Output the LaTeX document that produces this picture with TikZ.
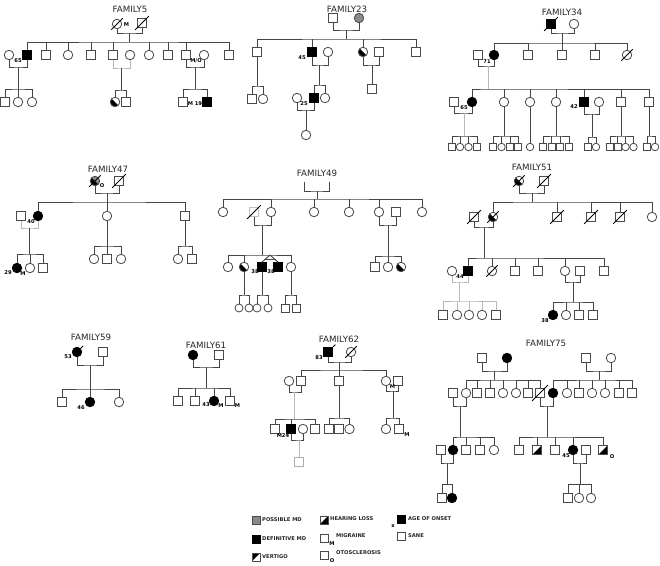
\documentclass[tikz,border=0pt]{standalone}
\usepackage{fontspec}
\setmainfont{DejaVu Sans}
\usetikzlibrary{calc}
\definecolor{lnc}{HTML}{454545}
\definecolor{olc}{HTML}{4A4A4A}
\definecolor{pmd}{HTML}{8A8A8A}
\definecolor{ltc}{HTML}{B8B8B8}
\tikzset{
  ln/.style={draw=lnc,line width=0.95pt},
  lt/.style={draw=ltc,line width=0.95pt},
  sq/.style={draw=olc,line width=0.8pt,rectangle,minimum size=9pt,inner sep=0pt,fill=white},
  ci/.style={draw=olc,line width=0.8pt,circle,minimum size=9.5pt,inner sep=0pt,fill=white},
  ss/.style={sq,minimum size=7pt},
  sc/.style={ci,minimum size=7.5pt},
  blk/.style={fill=black,draw=black},
  gry/.style={fill=pmd},
  vtg/.style={path picture={\fill[black] (path picture bounding box.south west) -- (path picture bounding box.north west) -- (path picture bounding box.north east) -- cycle;}},
  hl/.style={path picture={\fill[black] (path picture bounding box.south west) -- (path picture bounding box.south east) -- (path picture bounding box.north east) -- cycle;}},
  hc/.style={path picture={\fill[black] (path picture bounding box.north west) -- (path picture bounding box.south west) -- (path picture bounding box.south east) -- cycle;}},
  lab/.style={font=\bfseries\fontsize{5.2}{5.2}\selectfont,inner sep=0pt,text=black},
  leg/.style={font=\bfseries\fontsize{5.2}{5.2}\selectfont,inner sep=0pt,text=black!85,anchor=west},
  ttl/.style={font=\fontsize{8.7}{9}\selectfont,text=black!85,inner sep=0pt},
  sl/.style={draw=black,line width=0.75pt},
}
\newcommand\pSlash[1]{\draw[sl] ([shift={(-2pt,-2pt)}]#1.south west) -- ([shift={(2pt,2pt)}]#1.north east);}
\newcommand\pFlag[1]{\draw[sl] (#1.north east) -- ([shift={(2.5pt,2.5pt)}]#1.north east);}
\newcommand\pMarr[4][ln]{\draw[#1] (#2.south) |- (#4) -| (#3.south);}
\newcommand\pSibs[4][ln]{\draw[#1] (#2.north) |- (#4) -| (#3.north);}
\newcommand\pTick[3][ln]{\draw[#1] (#2.north) -- (#2.north |- #3);}
\begin{document}
\begin{tikzpicture}[x=1pt,y=-1pt]
\fill[white] (0,0) rectangle (660,565);
\useasboundingbox (0,0) rectangle (660,565);

%% ================= FAMILY5
\node[ttl] (t5) at (130,9) {FAMILY5};
\node[ci] (f5a) at (117,24) {};
\node[sq] (f5b) at (142,23) {};
\pSlash{f5a}\pSlash{f5b}
\node[lab] (f5la) at (126.5,25) {M};
\coordinate (m5) at (129,33);
\coordinate (s5) at (129,42);
\pMarr{f5a}{f5b}{m5}
\draw[ln] (m5) -- (s5);
\node[ci] (f5c1) at (9,55) {};
\node[sq,blk] (f5c2) at (27,55) {};
\node[sq] (f5c3) at (46,55) {};
\node[ci] (f5c4) at (68,55) {};
\node[sq] (f5c5) at (91,55) {};
\node[sq] (f5c6) at (113,55) {};
\node[ci] (f5c7) at (130,55) {};
\node[ci] (f5c8) at (149,55) {};
\node[sq] (f5c9) at (168,55) {};
\node[sq] (f5c10) at (186,55) {};
\node[ci] (f5c11) at (204,55) {};
\node[sq] (f5c12) at (229,55) {};
\pSibs{f5c2}{f5c12}{s5}
\foreach \n in {3,4,5,6,8,9,10} {\pTick{f5c\n}{s5}}
\node[lab] (f5lb) at (18,61) {65};
\node[lab] (f5lc) at (196,61) {M/O};
\coordinate (m5a) at (18,67);
\coordinate (s5a) at (18,89);
\pMarr{f5c1}{f5c2}{m5a}
\draw[ln] (m5a) -- (s5a);
\node[sq] (f5g1) at (5,102) {};
\node[ci] (f5g2) at (18,102) {};
\node[ci] (f5g3) at (32,102) {};
\pSibs{f5g1}{f5g3}{s5a}
\pTick{f5g2}{s5a}
\coordinate (m5b) at (121,68);
\coordinate (s5b) at (121,90);
\pMarr[lt]{f5c6}{f5c7}{m5b}
\draw[ln] (m5b) -- (s5b);
\node[ci,hc] (f5g4) at (115,102) {};
\node[sq] (f5g5) at (126,102) {};
\pSibs{f5g4}{f5g5}{s5b}
\coordinate (m5c) at (195,67);
\coordinate (s5c) at (195,89);
\pMarr{f5c10}{f5c11}{m5c}
\draw[ln] (m5c) -- (s5c);
\node[sq] (f5g6) at (183,102) {};
\node[sq,blk] (f5g7) at (207,102) {};
\pSibs{f5g6}{f5g7}{s5c}
\node[lab] (f5ld) at (195,104) {M 19};

%% ================= FAMILY23
\node[ttl] (t23) at (347,9) {FAMILY23};
\node[sq] (f23a) at (333,18) {};
\node[ci,gry] (f23b) at (359,18) {};
\coordinate (m23) at (346,30);
\coordinate (s23) at (346,39);
\pMarr{f23a}{f23b}{m23}
\draw[ln] (m23) -- (s23);
\node[sq] (f23c1) at (257,52) {};
\node[sq,blk] (f23c2) at (312,52) {};
\node[ci] (f23c3) at (328,52) {};
\node[ci,hc] (f23c4) at (363,52) {};
\node[sq] (f23c5) at (379,52) {};
\node[sq] (f23c6) at (416,52) {};
\pSibs{f23c1}{f23c6}{s23}
\pTick{f23c2}{s23}\pTick{f23c4}{s23}
\node[lab] (f23la) at (302,58) {45};
\coordinate (s23a) at (257,86);
\draw[ln] (f23c1.south) -- (s23a);
\node[sq] (f23g1) at (252,99) {};
\node[ci] (f23g2) at (263,99) {};
\pSibs{f23g1}{f23g2}{s23a}
\coordinate (m23b) at (319,65);
\coordinate (s23b) at (319,85);
\pMarr{f23c2}{f23c3}{m23b}
\draw[ln] (m23b) -- (s23b);
\node[sq,blk] (f23g3) at (314,98) {};
\node[ci] (f23g4) at (325,98) {};
\pSibs{f23g3}{f23g4}{s23b}
\node[ci] (f23g5) at (297,98) {};
\node[lab] (f23lb) at (304,104) {25};
\coordinate (m23c) at (306,110);
\pMarr{f23g5}{f23g3}{m23c}
\node[ci] (f23g6) at (306,135) {};
\draw[ln] (m23c) -- (f23g6.north);
\coordinate (m23d) at (372,65);
\pMarr{f23c4}{f23c5}{m23d}
\node[sq] (f23g7) at (372,89) {};
\draw[ln] (m23d) -- (f23g7.north);

%% ================= FAMILY34
\node[ttl] (t34) at (562,12) {FAMILY34};
\node[sq,blk] (f34a) at (551,24) {};
\node[ci] (f34b) at (574,24) {};
\pSlash{f34a}
\coordinate (m34) at (562,33);
\coordinate (s34) at (562,43);
\pMarr{f34a}{f34b}{m34}
\draw[ln] (m34) -- (s34);
\node[sq] (f34c1) at (478,55) {};
\node[ci,blk] (f34c2) at (494,55) {};
\node[sq] (f34c3) at (528,55) {};
\node[sq] (f34c4) at (562,55) {};
\node[sq] (f34c5) at (595,55) {};
\node[ci] (f34c6) at (627,55) {};
\pSlash{f34c6}
\pSibs{f34c2}{f34c6}{s34}
\foreach \n in {3,4,5} {\pTick{f34c\n}{s34}}
\node[lab] (f34la) at (487,62) {71};
\coordinate (m34a) at (488,66);
\coordinate (s34a) at (488,89);
\pMarr{f34c1}{f34c2}{m34a}
\draw[lt] (m34a) -- (s34a);
\node[sq] (f34g1) at (454,102) {};
\node[ci,blk] (f34g2) at (472,102) {};
\node[ci] (f34g3) at (504,102) {};
\node[ci] (f34g4) at (530,102) {};
\node[ci] (f34g5) at (556,102) {};
\node[sq,blk] (f34g6) at (584,102) {};
\node[ci] (f34g7) at (599,102) {};
\node[sq] (f34g8) at (621,102) {};
\node[sq] (f34g9) at (649,102) {};
\pSibs{f34g2}{f34g9}{s34a}
\foreach \n in {3,4,5,6,8} {\pTick{f34g\n}{s34a}}
\node[lab] (f34lb) at (464,108) {65};
\node[lab] (f34lc) at (574,107) {42};
\coordinate (m34b) at (464,113);
\coordinate (s34b) at (464,136);
\pMarr{f34g1}{f34g2}{m34b}
\draw[lt] (m34b) -- (s34b);
\node[ss] (f34h1) at (452,147) {};
\node[sc] (f34h2) at (460,147) {};
\node[sc] (f34h3) at (468.5,147) {};
\node[ss] (f34h4) at (477,147) {};
\pSibs{f34h1}{f34h4}{s34b}
\pTick{f34h2}{s34b}\pTick{f34h3}{s34b}
\coordinate (s34c) at (504,136);
\draw[ln] (f34g3.south) -- (s34c);
\node[ss] (f34h5) at (493,147) {};
\node[sc] (f34h6) at (501.5,147) {};
\node[ss] (f34h7) at (510,147) {};
\node[ss] (f34h8) at (518,147) {};
\pSibs{f34h5}{f34h8}{s34c}
\pTick{f34h6}{s34c}\pTick{f34h7}{s34c}
\node[sc] (f34h9) at (530,147) {};
\draw[ln] (f34g4.south) -- (f34h9.north);
\coordinate (s34d) at (556,136);
\draw[ln] (f34g5.south) -- (s34d);
\node[ss] (f34h10) at (543,147) {};
\node[ss] (f34h11) at (551.5,147) {};
\node[ss] (f34h12) at (560,147) {};
\node[ss] (f34h13) at (569,147) {};
\pSibs{f34h10}{f34h13}{s34d}
\pTick{f34h11}{s34d}\pTick{f34h12}{s34d}
\coordinate (m34e) at (592,114);
\coordinate (s34e) at (592,137);
\pMarr{f34g6}{f34g7}{m34e}
\draw[ln] (m34e) -- (s34e);
\node[ss] (f34h14) at (588,147) {};
\node[sc] (f34h15) at (596,147) {};
\pSibs{f34h14}{f34h15}{s34e}
\coordinate (s34f) at (621,136);
\draw[ln] (f34g8.south) -- (s34f);
\node[ss] (f34h16) at (610,147) {};
\node[ss] (f34h17) at (617.5,147) {};
\node[sc] (f34h18) at (625.5,147) {};
\node[sc] (f34h19) at (633.5,147) {};
\pSibs{f34h16}{f34h19}{s34f}
\pTick{f34h17}{s34f}\pTick{f34h18}{s34f}
\coordinate (s34g) at (649,136);
\draw[ln] (f34g9.south) -- (s34g);
\node[ss] (f34h20) at (647,147) {};
\node[sc] (f34h21) at (655,147) {};
\pSibs{f34h20}{f34h21}{s34g}

%% ================= FAMILY47
\node[ttl] (t47) at (108,169) {FAMILY47};
\node[ci,gry,hc] (f47a) at (95,181) {};
\node[sq] (f47b) at (119,181) {};
\pSlash{f47a}\pSlash{f47b}
\node[lab] (f47la) at (102,185.5) {O};
\coordinate (m47) at (107,193);
\coordinate (s47) at (107,202);
\pMarr{f47a}{f47b}{m47}
\draw[ln] (m47) -- (s47);
\node[sq] (f47c1) at (21,216) {};
\node[ci,blk] (f47c2) at (38,216) {};
\node[ci] (f47c3) at (107,216) {};
\node[sq] (f47c4) at (185,216) {};
\pSibs{f47c2}{f47c4}{s47}
\pTick{f47c3}{s47}
\node[lab] (f47lb) at (31,221.5) {40};
\coordinate (m47a) at (29,228);
\coordinate (s47a) at (29,254);
\pMarr[lt]{f47c1}{f47c2}{m47a}
\draw[ln] (m47a) -- (s47a);
\node[ci,blk] (f47g1) at (17,268) {};
\node[ci] (f47g2) at (30,268) {};
\node[sq] (f47g3) at (43,268) {};
\pSibs{f47g1}{f47g3}{s47a}
\pTick{f47g2}{s47a}
\node[lab] (f47lc) at (8,273) {29};
\node[lab] (f47ld) at (23,274) {M};
\coordinate (s47b) at (107,246);
\draw[ln] (f47c3.south) -- (s47b);
\node[ci] (f47g4) at (94,259) {};
\node[sq] (f47g5) at (107,259) {};
\node[ci] (f47g6) at (121,259) {};
\pSibs{f47g4}{f47g6}{s47b}
\pTick{f47g5}{s47b}
\coordinate (s47c) at (185,246);
\draw[ln] (f47c4.south) -- (s47c);
\node[ci] (f47g7) at (178,259) {};
\node[sq] (f47g8) at (192,259) {};
\pSibs{f47g7}{f47g8}{s47c}

%% ================= FAMILY49
\node[ttl] (t49) at (317,173) {FAMILY49};
\coordinate (b49a) at (304,182);
\coordinate (b49b) at (329,182);
\coordinate (m49) at (317,191);
\coordinate (s49) at (317,199);
\draw[ln] (b49a) |- (m49) -| (b49b);
\draw[ln] (m49) -- (s49);
\node[ci] (f49c1) at (223,212) {};
\node[sq,draw=olc!35] (f49c2) at (254,212) {};
\pSlash{f49c2}
\node[ci] (f49c3) at (271,212) {};
\node[ci] (f49c4) at (314,212) {};
\node[ci] (f49c5) at (349,212) {};
\node[ci] (f49c6) at (379,212) {};
\node[sq] (f49c7) at (396,212) {};
\node[ci] (f49c8) at (422,212) {};
\pSibs{f49c1}{f49c8}{s49}
\foreach \n in {3,4,5,6} {\pTick{f49c\n}{s49}}
\coordinate (m49a) at (262,225);
\coordinate (s49a) at (262,255);
\pMarr{f49c2}{f49c3}{m49a}
\draw[ln] (m49a) -- (s49a);
\node[ci] (f49g1) at (228,267) {};
\node[ci,hc] (f49g2) at (244,267) {};
\node[sq,blk] (f49g3) at (262,267) {};
\node[sq,blk] (f49g4) at (278,267) {};
\node[ci] (f49g5) at (291,267) {};
\pSibs{f49g1}{f49g5}{s49a}
\pTick{f49g2}{s49a}
\coordinate (tw49) at (270,255);
\draw[ln] (tw49) -- (f49g3.north);
\draw[ln] (tw49) -- (f49g4.north);
\draw[ln] ($(tw49)!0.65!(f49g3.north)$) -- ($(tw49)!0.65!(f49g4.north)$);
\node[lab] (f49la) at (255,272) {38};
\node[lab] (f49lb) at (271,272) {38};
\coordinate (s49b) at (244,295);
\draw[ln] (f49g2.south) -- (s49b);
\node[ci,minimum size=8pt] (f49h1) at (239,308) {};
\node[ci,minimum size=8pt] (f49h2) at (249,308) {};
\pSibs{f49h1}{f49h2}{s49b}
\coordinate (s49c) at (262,295);
\draw[ln] (f49g3.south) -- (s49c);
\node[ci,minimum size=8pt] (f49h3) at (257,308) {};
\node[ci,minimum size=8pt] (f49h4) at (268,308) {};
\pSibs{f49h3}{f49h4}{s49c}
\coordinate (s49d) at (291,295);
\draw[ln] (f49g5.south) -- (s49d);
\node[sq,minimum size=8pt] (f49h5) at (285,308) {};
\node[sq,minimum size=8pt] (f49h6) at (296,308) {};
\pSibs{f49h5}{f49h6}{s49d}
\coordinate (m49b) at (388,225);
\coordinate (s49e) at (388,256);
\pMarr{f49c6}{f49c7}{m49b}
\draw[ln] (m49b) -- (s49e);
\node[sq] (f49g6) at (375,267) {};
\node[ci] (f49g7) at (388,267) {};
\node[ci,hc] (f49g8) at (401,267) {};
\pSibs{f49g6}{f49g8}{s49e}
\pTick{f49g7}{s49e}

%% ================= FAMILY51
\node[ttl] (t51) at (532,167) {FAMILY51};
\node[ci,hc] (f51a) at (519,181) {};
\node[sq] (f51b) at (544,181) {};
\pSlash{f51a}\pSlash{f51b}
\coordinate (m51) at (532,193);
\coordinate (s51) at (532,202);
\pMarr{f51a}{f51b}{m51}
\draw[ln] (m51) -- (s51);
\node[sq] (f51c1) at (474,217) {};
\node[ci,hc] (f51c2) at (493,217) {};
\node[sq] (f51c3) at (557,217) {};
\node[sq] (f51c4) at (591,217) {};
\node[sq] (f51c5) at (620,217) {};
\node[ci] (f51c6) at (652,217) {};
\foreach \n in {1,2,3,4,5} {\pSlash{f51c\n}}
\pSibs{f51c2}{f51c6}{s51}
\foreach \n in {3,4,5} {\pTick{f51c\n}{s51}}
\coordinate (m51a) at (484,227);
\coordinate (s51a) at (484,258);
\pMarr{f51c1}{f51c2}{m51a}
\draw[ln] (m51a) -- (s51a);
\node[ci] (f51g1) at (452,271) {};
\node[sq,blk] (f51g2) at (468,271) {};
\node[ci] (f51g3) at (492,271) {};
\pSlash{f51g3}
\node[sq] (f51g4) at (515,271) {};
\node[sq] (f51g5) at (538,271) {};
\node[ci] (f51g6) at (565,271) {};
\node[sq] (f51g7) at (580,271) {};
\node[sq] (f51g8) at (604,271) {};
\pSibs{f51g2}{f51g8}{s51a}
\foreach \n in {3,4,5,6} {\pTick{f51g\n}{s51a}}
\node[lab] (f51la) at (460,277) {44};
\coordinate (m51b) at (459,282);
\coordinate (s51b) at (459,301);
\pMarr[lt]{f51g1}{f51g2}{m51b}
\draw[lt] (m51b) -- (s51b);
\node[sq] (f51h1) at (443,315) {};
\node[ci] (f51h2) at (457,315) {};
\node[ci] (f51h3) at (469,315) {};
\node[ci] (f51h4) at (482,315) {};
\node[sq] (f51h5) at (496,315) {};
\pSibs[lt]{f51h1}{f51h5}{s51b}
\foreach \n in {2,3,4} {\pTick[lt]{f51h\n}{s51b}}
\coordinate (m51c) at (573,282);
\coordinate (s51c) at (573,302);
\pMarr{f51g6}{f51g7}{m51c}
\draw[ln] (m51c) -- (s51c);
\node[ci,blk] (f51h6) at (553,315) {};
\node[ci] (f51h7) at (566,315) {};
\node[sq] (f51h8) at (579,315) {};
\node[sq] (f51h9) at (593,315) {};
\pSibs{f51h6}{f51h9}{s51c}
\pTick{f51h7}{s51c}\pTick{f51h8}{s51c}
\node[lab] (f51lb) at (545,321) {38};

%% ================= FAMILY59
\node[ttl] (t59) at (91,337) {FAMILY59};
\node[ci,blk] (f59a) at (77,352) {};
\pFlag{f59a}
\node[sq] (f59b) at (103,352) {};
\node[lab] (f59la) at (68,357) {53};
\coordinate (m59) at (90,365);
\coordinate (s59) at (90,389);
\pMarr{f59a}{f59b}{m59}
\draw[ln] (m59) -- (s59);
\node[sq] (f59c1) at (62,402) {};
\node[ci,blk] (f59c2) at (90,402) {};
\node[ci] (f59c3) at (119,402) {};
\pSibs{f59c1}{f59c3}{s59}
\pTick{f59c2}{s59}
\node[lab] (f59lb) at (81,408) {46};

%% ================= FAMILY61
\node[ttl] (t61) at (206,345) {FAMILY61};
\node[ci,blk] (f61a) at (193,355) {};
\node[sq] (f61b) at (219,355) {};
\coordinate (m61) at (206,367);
\coordinate (s61) at (206,388);
\pMarr{f61a}{f61b}{m61}
\draw[ln] (m61) -- (s61);
\node[sq] (f61c1) at (178,401) {};
\node[sq] (f61c2) at (195,401) {};
\node[ci,blk] (f61c3) at (214,401) {};
\node[sq] (f61c4) at (230,401) {};
\pSibs{f61c1}{f61c4}{s61}
\pTick{f61c2}{s61}\pTick{f61c3}{s61}
\node[lab] (f61la) at (206,405) {43};
\node[lab] (f61lb) at (221,406) {M};
\node[lab] (f61lc) at (237.5,406) {M};

%% ================= FAMILY62
\node[ttl] (t62) at (339,339) {FAMILY62};
\node[sq,blk] (f62a) at (328,352) {};
\pFlag{f62a}
\node[ci] (f62b) at (351,352) {};
\pSlash{f62b}
\node[lab] (f62la) at (319,358) {83};
\coordinate (m62) at (339,362);
\coordinate (s62) at (339,370);
\pMarr{f62a}{f62b}{m62}
\draw[ln] (m62) -- (s62);
\node[ci] (f62c1) at (289,381) {};
\node[sq] (f62c2) at (301,381) {};
\node[sq] (f62c3) at (339,381) {};
\node[ci] (f62c4) at (386,381) {};
\node[sq] (f62c5) at (398,381) {};
\pSibs{f62c2}{f62c4}{s62}
\pTick{f62c3}{s62}
\node[lab] (f62lb) at (392.5,387) {M};
\coordinate (m62a) at (294,392);
\coordinate (s62a) at (294,419);
\pMarr{f62c1}{f62c2}{m62a}
\draw[lt] (m62a) -- (s62a);
\node[sq] (f62g1) at (275,429) {};
\node[sq,blk] (f62g2) at (291,429) {};
\node[ci] (f62g3) at (303,429) {};
\node[sq] (f62g4) at (315,429) {};
\pSibs{f62g1}{f62g4}{s62a}
\pTick{f62g2}{s62a}
\node[lab] (f62lc) at (283,436) {M24};
\coordinate (m62b) at (299,440);
\pMarr{f62g2}{f62g3}{m62b}
\node[sq,draw=olc!45] (f62k) at (299,462) {};
\draw[lt] (m62b) -- (f62k.north);
\coordinate (s62b) at (339,418);
\draw[ln] (f62c3.south) -- (s62b);
\node[sq] (f62g5) at (329,429) {};
\node[sq] (f62g6) at (339,429) {};
\node[ci] (f62g7) at (349.5,429) {};
\pSibs{f62g5}{f62g7}{s62b}
\coordinate (m62c) at (393,391);
\coordinate (s62c) at (393,418);
\pMarr{f62c4}{f62c5}{m62c}
\draw[ln] (m62c) -- (s62c);
\node[ci] (f62g8) at (386,429) {};
\node[sq] (f62g9) at (399,429) {};
\pSibs{f62g8}{f62g9}{s62c}
\node[lab] (f62ld) at (407,435) {M};

%% ================= FAMILY75
\node[ttl] (t75) at (546,343) {FAMILY75};
\node[sq] (f75a) at (482,358) {};
\node[ci,blk] (f75b) at (507,358) {};
\node[sq] (f75c) at (586,358) {};
\node[ci] (f75d) at (611,358) {};
\coordinate (m75a) at (494,371);
\coordinate (s75a) at (494,380);
\coordinate (m75b) at (599,371);
\coordinate (s75b) at (599,380);
\pMarr{f75a}{f75b}{m75a}
\pMarr{f75c}{f75d}{m75b}
\draw[ln] (m75a) -- (s75a);
\draw[ln] (m75b) -- (s75b);
\node[sq] (f75l0) at (453,393) {};
\node[ci] (f75l1) at (466,393) {};
\node[sq] (f75l2) at (477,393) {};
\node[sq] (f75l3) at (490,393) {};
\node[ci] (f75l4) at (503,393) {};
\node[ci] (f75l5) at (516,393) {};
\node[sq] (f75l6) at (528,393) {};
\node[sq] (f75l7) at (540,393) {};
\draw[sl] ([shift={(-3pt,-3pt)}]f75l7.south west) -- ([shift={(3pt,3pt)}]f75l7.north east);
\pSibs{f75l1}{f75l7}{s75a}
\foreach \n in {2,3,4,5,6} {\pTick{f75l\n}{s75a}}
\node[ci,blk] (f75r1) at (553,393) {};
\node[ci] (f75r2) at (567,393) {};
\node[sq] (f75r3) at (579,393) {};
\node[ci] (f75r4) at (592,393) {};
\node[ci] (f75r5) at (605,393) {};
\node[sq] (f75r6) at (619,393) {};
\node[sq] (f75r7) at (632,393) {};
\pSibs{f75r1}{f75r7}{s75b}
\foreach \n in {2,3,4,5,6} {\pTick{f75r\n}{s75b}}
\coordinate (m75c) at (460,406);
\coordinate (s75c) at (460,437);
\pMarr{f75l0}{f75l1}{m75c}
\draw[ln] (m75c) -- (s75c);
\coordinate (m75d) at (547,406);
\coordinate (s75d) at (547,437);
\pMarr{f75l7}{f75r1}{m75d}
\draw[ln] (m75d) -- (s75d);
\node[sq] (f75a0) at (441,450) {};
\node[ci,blk] (f75a1) at (453,450) {};
\node[sq] (f75a2) at (466,450) {};
\node[sq] (f75a3) at (480,450) {};
\node[ci] (f75a4) at (494,450) {};
\pSibs{f75a1}{f75a4}{s75c}
\pTick{f75a2}{s75c}\pTick{f75a3}{s75c}
\coordinate (m75e) at (447,463);
\coordinate (s75e) at (447,484);
\pMarr{f75a0}{f75a1}{m75e}
\draw[ln] (m75e) -- (s75e);
\node[sq] (f75e1) at (442,498) {};
\node[ci,blk] (f75e2) at (452,498) {};
\pSibs{f75e1}{f75e2}{s75e}
\node[sq] (f75b1) at (519,450) {};
\node[sq,hl] (f75b2) at (537,450) {};
\node[sq] (f75b3) at (555,450) {};
\node[ci,blk] (f75b4) at (573,450) {};
\node[sq] (f75b5) at (586,450) {};
\node[sq,hl] (f75b6) at (603,450) {};
\pSibs{f75b1}{f75b6}{s75d}
\foreach \n in {2,3,4} {\pTick{f75b\n}{s75d}}
\node[lab] (f75la) at (566,456) {45};
\node[lab] (f75lb) at (612,457) {O};
\coordinate (m75f) at (580,463);
\coordinate (s75f) at (580,484);
\pMarr{f75b4}{f75b5}{m75f}
\draw[ln] (m75f) -- (s75f);
\node[sq] (f75f1) at (568,498) {};
\node[ci] (f75f2) at (579,498) {};
\node[ci] (f75f3) at (591,498) {};
\pSibs{f75f1}{f75f3}{s75f}
\pTick{f75f2}{s75f}

%% ================= LEGEND
\node[sq,gry,minimum size=8pt] (k1) at (256,520) {};
\node[leg] (k1t) at (262,520) {POSSIBLE MD};
\node[sq,blk,minimum size=8pt] (k2) at (256,539) {};
\node[leg] (k2t) at (262,539) {DEFINITIVE MD};
\node[sq,vtg,minimum size=8pt] (k3) at (256,557) {};
\node[leg] (k3t) at (262,557) {VERTIGO};
\node[sq,hl,minimum size=8pt] (k4) at (324,520) {};
\node[leg] (k4t) at (330,519) {HEARING LOSS};
\node[sq,minimum size=8pt] (k5) at (324,538) {};
\node[lab] (k5m) at (332,544) {M};
\node[leg] (k5t) at (336,536) {MIGRAINE};
\node[sq,minimum size=8pt] (k6) at (324,555) {};
\node[lab] (k6o) at (332,561) {O};
\node[leg] (k6t) at (336,553) {OTOSCLEROSIS};
\node[sq,blk,minimum size=8pt] (k7) at (401,519) {};
\node[lab] (k7x) at (393,526) {x};
\node[leg] (k7t) at (408,519) {AGE OF ONSET};
\node[sq,minimum size=8pt] (k8) at (401,536) {};
\node[leg] (k8t) at (408,536) {SANE};
\end{tikzpicture}
\end{document}
